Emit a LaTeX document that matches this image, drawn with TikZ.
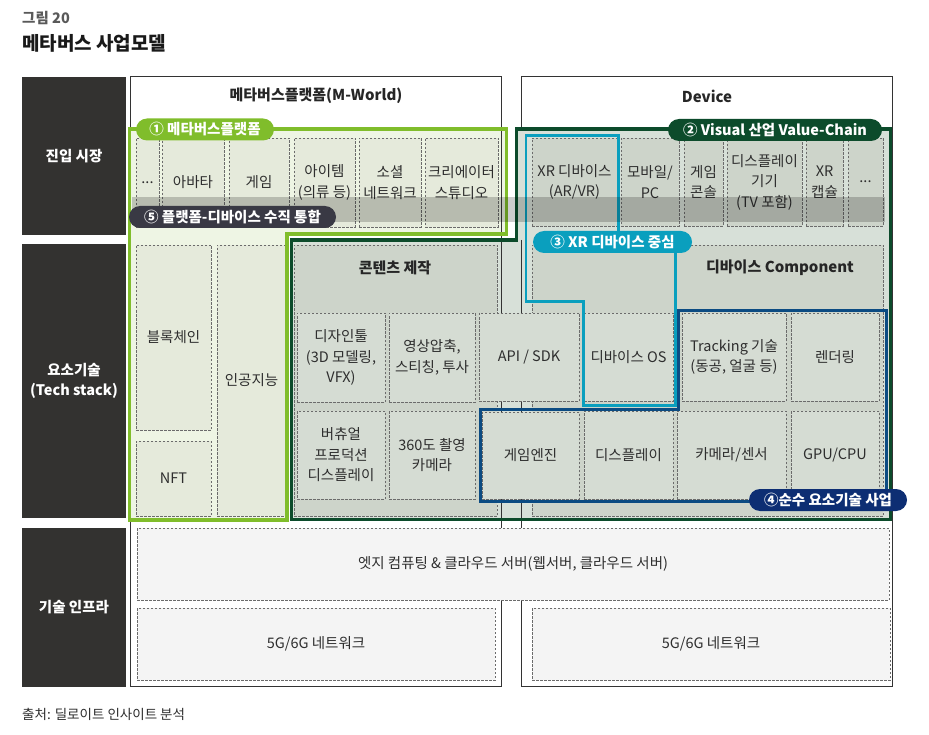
\documentclass[tikz,border=0pt]{standalone}
\usepackage{fontspec}
\setmainfont{Noto Sans CJK KR}
\definecolor{lblc}{HTML}{333230}
\definecolor{panelc}{HTML}{333333}
\definecolor{dashc}{HTML}{6B6B6B}
\definecolor{txtc}{HTML}{2E2E2E}
\definecolor{grnline}{HTML}{80BD2B}
\definecolor{grnbg}{HTML}{EEF5E4}
\definecolor{grnbox}{HTML}{E5EADB}
\definecolor{dgline}{HTML}{0C4B2B}
\definecolor{dgbg}{HTML}{D7E0D8}
\definecolor{dgcont}{HTML}{CDD4CA}
\definecolor{dgbox}{HTML}{D5DCD3}
\definecolor{cyanc}{HTML}{0A9FBE}
\definecolor{navyline}{HTML}{0B4B82}
\definecolor{navypill}{HTML}{0D2E73}
\definecolor{pillfive}{HTML}{393944}
\definecolor{botfill}{HTML}{F4F4F4}
\newcommand\mybox[7]{\node[dbox,#6,minimum width={#4-#2},minimum height={#5-#3}] (#1) at ({(#2+#4)/2},{(#3+#5)/2}) {#7};}
\tikzset{
  rowlbl/.style={fill=lblc, text=white, font=\bfseries\fontsize{14.5}{20}\selectfont, align=center, inner sep=0},
  panelbox/.style={draw=panelc, line width=1pt, fill=white},
  dbox/.style={draw=dashc, dash pattern=on 2.5pt off 1.5pt, line width=0.8pt, inner sep=0, align=center, font=\fontsize{14.5}{20.5}\selectfont, text=txtc},
  pill/.style={rounded corners=11pt, text=white, font=\bfseries\fontsize{14.5}{16}\selectfont, inner sep=0, minimum height=22pt},
  boldtitle/.style={font=\bfseries\fontsize{15}{18}\selectfont, text=black!85, inner sep=0},
  outline/.style={line width=3.2pt, line join=miter}
}
\begin{document}
\begin{tikzpicture}[x=1pt,y=-1pt]
\useasboundingbox[fill=white] (0,0) rectangle (929,735);
% titles
\node[anchor=west, inner sep=0, text=black!65, font=\bfseries\fontsize{14.5}{16}\selectfont] (fig) at (22,18) {그림 20};
\node[anchor=west, inner sep=0, text=black!90, font=\bfseries\fontsize{19}{21}\selectfont] (ttl) at (22,43) {메타버스 사업모델};
\node[anchor=west, inner sep=0, text=txtc, font=\fontsize{13.5}{15}\selectfont] (src) at (22,714) {출처: 딜로이트 인사이트 분석};
% row labels
\node[rowlbl, minimum width=104pt, minimum height=158pt] (r1) at (74,156) {진입 시장};
\node[rowlbl, minimum width=104pt, minimum height=274pt] (r2) at (74,381) {요소기술\\(Tech stack)};
\node[rowlbl, minimum width=104pt, minimum height=159pt] (r3) at (74,607.5) {기술 인프라};
% panels
\draw[panelbox] (130.5,77) rectangle (501.5,686);
\draw[panelbox] (521.5,77) rectangle (892.5,686);
\node[boldtitle] (pt1) at (316,96) {메타버스플랫폼(M-World)};
\node[boldtitle] (pt2) at (707,96) {Device};
% region fills
\fill[grnbg] (129.5,129) -- (506.5,129) -- (506.5,234) -- (287,234) -- (287,520) -- (129.5,520) -- cycle;
\fill[dgbg] (516.5,129) -- (890.5,129) -- (890.5,519.5) -- (291.5,519.5) -- (291.5,240) -- (516.5,240) -- cycle;
\draw[panelc, line width=1pt] (501.5,77) -- (501.5,528);
\draw[panelc, line width=1pt] (521.5,240) -- (521.5,528);
% row 1 left
\mybox{a1}{136}{138}{159}{227}{fill=grnbox}{...}
\mybox{a2}{162}{138}{224}{227}{fill=grnbox}{아바타}
\mybox{a3}{229}{138}{289}{227}{fill=grnbox}{게임}
\mybox{a4}{294}{138}{355}{227}{fill=grnbox}{아이템\\(의류 등)}
\mybox{a5}{359}{138}{421}{227}{fill=grnbox}{소셜\\네트워크}
\mybox{a6}{425}{138}{498}{227}{fill=grnbox}{크리에이터\\스튜디오}
% row 1 right
\mybox{b1}{532}{138}{617}{226}{fill=dgcont}{XR 디바이스\\(AR/VR)}
\mybox{b2}{621}{138}{679}{226}{fill=dgcont}{모바일/\\PC}
\mybox{b3}{684}{138}{723}{226}{fill=dgcont}{게임\\콘솔}
\mybox{b4}{727}{138}{802}{226}{fill=dgcont}{디스플레이\\기기\\(TV 포함)}
\mybox{b5}{806}{138}{843}{226}{fill=dgcont}{XR\\캡슐}
\mybox{b6}{848}{138}{883}{226}{fill=dgcont}{...}
% row 2 left
\mybox{c1}{136}{245}{211}{430}{fill=grnbox}{블록체인}
\mybox{c2}{136}{441}{211}{516}{fill=grnbox}{NFT}
\mybox{c3}{217}{245}{286}{516}{fill=grnbox}{인공지능}
% containers
\mybox{k1}{294}{245}{497}{516}{fill=dgcont}{}
\mybox{k2}{532}{245}{883}{516}{fill=dgcont}{}
\node[boldtitle] (k1t) at (395,268) {콘텐츠 제작};
\node[boldtitle] (k2t) at (780,268) {디바이스 Component};
% inner boxes
\mybox{d1}{297}{313}{385}{402}{fill=dgbox}{디자인툴\\(3D 모델링,\\VFX)}
\mybox{d2}{389}{313}{475}{402}{fill=dgbox}{영상압축,\\스티칭, 투사}
\mybox{d3}{297}{411}{385}{499}{fill=dgbox}{버츄얼\\프로덕션\\디스플레이}
\mybox{d4}{389}{411}{475}{499}{fill=dgbox}{360도 촬영\\카메라}
\mybox{d5}{479}{313}{579}{401}{fill=dgbox}{API / SDK}
\mybox{d6}{482}{412}{579}{499}{fill=dgbox}{게임엔진}
\mybox{e1}{584}{313}{673}{401}{fill=dgbox}{디바이스 OS}
\mybox{e2}{682}{313}{786}{401}{fill=dgbox}{Tracking 기술\\(동공, 얼굴 등)}
\mybox{e3}{791}{313}{879}{401}{fill=dgbox}{렌더링}
\mybox{e4}{584}{411}{673}{499}{fill=dgbox}{디스플레이}
\mybox{e5}{677}{411}{786}{499}{fill=dgbox}{카메라/센서}
\mybox{e6}{791}{411}{879}{499}{fill=dgbox}{GPU/CPU}
% outlines
\draw[outline, grnline] (129.5,129) -- (506.5,129) -- (506.5,234) -- (287,234) -- (287,520) -- (129.5,520) -- cycle;
\draw[outline, dgline] (516.5,129) -- (890.5,129) -- (890.5,519.5) -- (291.5,519.5) -- (291.5,240) -- (516.5,240) -- cycle;
\draw[outline, cyanc, line width=2.7pt] (526,135.5) -- (618.7,135.5) -- (618.7,242) -- (675.5,242) -- (675.5,405.5) -- (583.7,405.5) -- (583.7,301.7) -- (526,301.7) -- cycle;
\draw[outline, navyline] (678.3,310.7) -- (886.7,310.7) -- (886.7,501.2) -- (480.8,501.2) -- (480.8,409.7) -- (678.3,409.7) -- cycle;
% band
\fill[black, opacity=0.2] (132,197) rectangle (885,222);
% bottom section
\mybox{f1}{137}{528}{889}{600}{fill=botfill}{엣지 컴퓨팅 \& 클라우드 서버(웹서버, 클라우드 서버)}
\mybox{f2}{137}{608}{495}{680}{fill=botfill}{5G/6G 네트워크}
\mybox{f3}{532}{608}{890}{680}{fill=botfill}{5G/6G 네트워크}
% pills
\node[pill, fill=grnline, minimum width=138pt] (p1) at (205,129.5) {① 메타버스플랫폼};
\node[pill, fill=dgline, minimum width=214pt] (p2) at (775,130) {② Visual 산업 Value-Chain};
\node[pill, fill=cyanc, minimum width=159pt] (p3) at (612.5,242) {③ XR 디바이스 중심};
\node[pill, fill=navypill, minimum width=158pt] (p4) at (828,500) {④순수 요소기술 사업};
\node[pill, fill=pillfive, minimum width=207pt] (p5) at (232.5,217) {⑤ 플랫폼-디바이스 수직 통합};
\end{tikzpicture}
\end{document}
